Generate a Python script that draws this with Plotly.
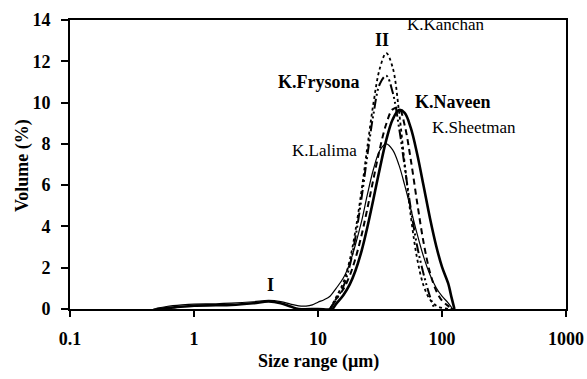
import plotly.graph_objects as go

# Particle size (µm) grid for the main peaks
sizes_main = [12.5, 14, 16, 18, 20, 22.5, 25, 28, 31.5, 35.5, 40, 45, 50, 56, 63, 71, 80, 90, 100, 112, 122]

kanchan = [0.0, 0.57, 1.28, 2.35, 3.76, 5.78, 7.84, 9.97, 11.65, 12.4, 11.7, 9.57, 7.07, 4.5, 2.45, 1.14, 0.46, 0.16, 0.05, 0.01, 0.0]

frysona_sizes = [12.5, 14, 16, 18, 20, 22.5, 25, 28, 31.5, 35.5, 40, 45, 50, 56, 63, 71, 80, 87]
frysona = [0.0, 0.45, 1.08, 2.08, 3.44, 5.42, 7.43, 9.44, 10.9, 11.3, 10.5, 8.8, 6.9, 4.86, 3.05, 1.7, 0.6, 0.0]

sheetman = [0.0, 0.49, 0.96, 1.61, 2.43, 3.6, 4.86, 6.3, 7.75, 8.96, 9.67, 9.72, 8.9, 7.23, 5.17, 3.23, 1.77, 0.87, 0.41, 0.15, 0.0]

naveen_sizes = [0.5, 0.7, 1, 1.5, 2, 3, 4, 5, 6, 7, 10, 13, 14, 16, 18, 20, 22.5, 25, 28, 31.5, 35.5, 40, 45,
                50, 56, 63, 71, 80, 90, 100, 112, 120, 126]
naveen = [0.0, 0.08, 0.16, 0.18, 0.2, 0.28, 0.36, 0.28, 0.12, 0.0, 0.0, 0.0, 0.25, 0.67, 1.18, 1.84, 2.83, 3.96,
          5.33, 6.8, 8.18, 9.18, 9.64, 9.5, 8.77, 7.52, 5.97, 4.4, 3.03, 2.04, 1.25, 0.5, 0.0]

lalima_sizes = [0.47, 0.6, 0.8, 1, 1.5, 2, 3, 4, 5, 6, 7, 8, 9, 10, 11.2, 12.5, 14, 16, 18, 20, 22.5, 25, 28, 31.5,
                35.5, 40, 45, 50, 56, 63, 71, 80, 90, 100, 112, 122]
lalima = [0.0, 0.12, 0.2, 0.24, 0.25, 0.28, 0.35, 0.42, 0.36, 0.24, 0.15, 0.14, 0.2, 0.33, 0.45, 0.62, 1.0, 1.5,
          2.2, 3.1, 4.27, 5.54, 6.77, 7.68, 8.0, 7.71, 6.97, 6.0, 4.85, 3.64, 2.54, 1.66, 1.02, 0.62, 0.3, 0.0]

x_tickvals = [0.1, 1, 10, 100, 1000]
x_ticktext = ["0.1", "1", "10", "100", "1000"]
y_tickvals = [0, 2, 4, 6, 8, 10, 12, 14]

FONT = "Liberation Serif, Times New Roman, serif"

fig = go.Figure()
fig.add_trace(go.Scatter(x=lalima_sizes, y=lalima, mode="lines", name="K.Lalima",
                         line=dict(color="black", width=1.2, shape="spline")))
fig.add_trace(go.Scatter(x=naveen_sizes, y=naveen, mode="lines", name="K.Naveen",
                         line=dict(color="black", width=2.6, shape="spline")))
fig.add_trace(go.Scatter(x=sizes_main, y=sheetman, mode="lines", name="K.Sheetman",
                         line=dict(color="black", width=2, dash="6px,4px", shape="spline")))
fig.add_trace(go.Scatter(x=frysona_sizes, y=frysona, mode="lines", name="K.Frysona",
                         line=dict(color="black", width=2, dash="10px,3px,2px,3px,2px,3px", shape="spline")))
fig.add_trace(go.Scatter(x=sizes_main, y=kanchan, mode="lines", name="K.Kanchan",
                         line=dict(color="black", width=1.8, dash="dot", shape="spline")))

annots = [
    ("II", 1.52, 13.03, "center", True, 18),
    ("K.Kanchan", 1.702, 13.76, "left", False, 17),
    ("K.Frysona", 1.355, 11.0, "right", True, 18),
    ("K.Naveen", 1.766, 10.03, "left", True, 18),
    ("K.Sheetman", 1.903, 8.77, "left", False, 17),
    ("K.Lalima", 1.33, 7.70, "right", False, 17),
    ("I", 0.613, 1.16, "center", True, 18),
]
for txt, lx, ly, anc, bold, sz in annots:
    fig.add_annotation(x=lx, y=ly, xref="x", yref="y", text=txt, showarrow=False, xanchor=anc,
                       yanchor="middle",
                       font=dict(family=FONT, size=sz, color="black", weight="bold" if bold else "normal"))

# axis titles as paper-anchored text
fig.add_annotation(x=0.5, y=-0.183, xref="paper", yref="paper", text="Size range (µm)", showarrow=False,
                   xanchor="center", yanchor="middle",
                   font=dict(family=FONT, size=18, color="black", weight="bold"))
fig.add_annotation(x=-0.0968, y=0.498, xref="paper", yref="paper", text="Volume (%)", showarrow=False,
                   textangle=-90, xanchor="center", yanchor="middle",
                   font=dict(family=FONT, size=18, color="black", weight="bold"))

fig.update_layout(
    width=587, height=379,
    margin=dict(l=70, r=21, t=20, b=70, autoexpand=False),
    paper_bgcolor="white", plot_bgcolor="white",
    showlegend=False,
    font=dict(family=FONT, color="black"),
)
fig.update_xaxes(type="log", range=[-1, 3], tickvals=x_tickvals, ticktext=x_ticktext, automargin=False,
                 showgrid=False, zeroline=False, showline=True, linecolor="black", linewidth=2,
                 mirror=True, ticks="outside", ticklen=6, tickwidth=1.5, tickcolor="black",
                 ticklabelstandoff=6,
                 tickfont=dict(family=FONT, size=18, color="black", weight="bold"))
fig.update_yaxes(range=[0, 14], tickvals=y_tickvals, showgrid=False, zeroline=False, automargin=False,
                 showline=True, linecolor="black", linewidth=2, mirror=True,
                 ticks="outside", ticklen=7, tickwidth=1.5, tickcolor="black",
                 ticklabelstandoff=7,
                 tickfont=dict(family=FONT, size=18, color="black", weight="bold"))

fig.write_html("out.html", config={"displayModeBar": False},
               post_script="document.body.style.margin='0px';document.body.style.overflow='hidden';")
